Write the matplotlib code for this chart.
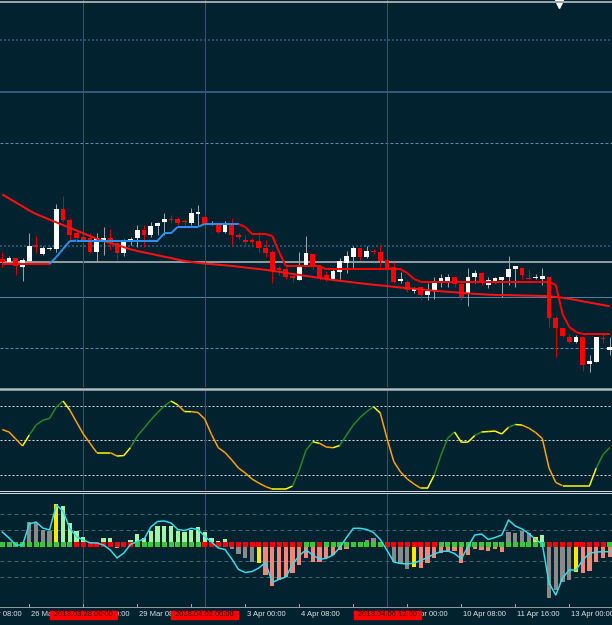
import numpy as np
import matplotlib
matplotlib.use("Agg")
import matplotlib.pyplot as plt
from matplotlib.collections import LineCollection
from matplotlib.patches import Rectangle
from matplotlib.lines import Line2D

# H4 candles, bar 0 = 2018.03.28 00:00 (price in chart points)
bars = np.arange(-12, 79)

open_ = [131, 128.3, 132.3, 122.7, 129, 145, 136, 141.3, 140.7, 180.7, 170, 156.7,
         153.3, 151.7, 138.3, 148.3, 151.7, 147.3, 136.7, 149.7, 151.7, 160, 155, 164,
         167.7, 171.3, 170.7, 168.7, 166.7, 175.7,
         173.3, 166.4, 166.7, 158.3, 165, 154.7, 149.5, 149.3, 149, 142.3, 138.3, 121.5,
         120.7, 113.5, 110, 124, 136, 124, 115, 110.7, 118.3, 127.3, 132.7, 141.7,
         133.3, 138.8, 138.3,
         130, 122.7, 109.5, 108.3, 99.3, 102.7, 95, 99.3, 108.3, 108.3, 112.7, 106,
         96.7, 112.7, 117.3, 105, 109.3, 110, 112.7, 120.7, 122.3, 112.2, 111.7, 110.7,
         113.3, 71.7, 61.7, 53.3, 48.3, 53.3, 26, 28.3, 52.2, 40]
high = [138.3, 134, 132.3, 131.7, 156.7, 154, 144.3, 143.3, 186, 194, 171.7, 160,
        157, 156.7, 156.7, 163.3, 160.7, 148.3, 150.7, 152.7, 165, 165, 168.3, 168.3,
        176.7, 175, 173.3, 170.7, 181.7, 185,
        177, 169, 168.3, 169.3, 171.7, 157.3, 155, 151.7, 158.3, 150, 140, 124,
        122.7, 116.7, 138.3, 154, 136, 125, 119.3, 120.7, 131.7, 139.3, 144, 141.7,
        144, 140.7, 145,
        130, 128.3, 118.3, 110, 103.3, 103.3, 106.7, 113.3, 116, 116, 113.3, 107.3,
        121.7, 120, 118.3, 112.7, 112.7, 113.3, 134, 124, 123.3, 120.7, 116, 121.7,
        113.3, 74, 62.7, 56, 55, 54, 35, 52.7, 57.3, 53.3]
low = [122.7, 127, 115, 109.3, 128, 137.3, 135, 140, 138.3, 168.3, 150, 148.3,
       147, 136.7, 128.3, 135, 140, 130, 134, 145, 143.3, 143.3, 153.3, 155,
       155, 166.7, 165, 165, 165, 165,
       165, 165, 157.3, 157.3, 145, 150.7, 144, 146, 138.3, 132.7, 106.7, 115,
       110.7, 108.3, 110, 124, 120.7, 110, 109.3, 110, 110.7, 116.7, 120.7, 130,
       131.7, 136, 122.7,
       118.3, 106.7, 106.7, 98, 97.3, 90, 90, 90.7, 103.3, 103.3, 103.3, 90,
       84, 106.7, 105, 101.7, 106.7, 93.3, 105, 102.7, 110.7, 110.7, 110.7, 105,
       63.3, 33.3, 53.3, 47.3, 46.7, 19.3, 18.3, 28.3, 46.7, 35]
close = [127.7, 132.3, 124, 130, 144.3, 143.3, 142.3, 142, 180.7, 170, 155, 151.7,
         150, 138.3, 151.7, 151.7, 146.7, 137.3, 148.3, 150.3, 160, 155, 164, 167.3,
         171, 170, 166.7, 168, 176.7, 178.3,
         166, 167, 158.3, 167.3, 155, 153.5, 148.5, 148.5, 141.7, 137.3, 120, 120.5,
         113.3, 112.5, 125, 136.7, 122.7, 112.7, 110.7, 119.3, 129.3, 134, 141.7, 132.7,
         139, 137.8, 129.3,
         120, 108.3, 110.5, 100, 101.7, 95, 99.3, 107.3, 111.7, 112.7, 106, 92.7,
         112.7, 117.3, 108.3, 110, 111.7, 113.3, 120.7, 124, 115, 111.2, 112.7, 114,
         71.7, 61.7, 54, 48.3, 53.3, 25, 29.3, 52.7, 51.2, 43.3]

# moving average and trailing stop (side +1 = support / blue, -1 = resistance / red)
ma = [195.6, 191.6, 187.6, 183.6, 179.5, 176, 173.2, 170.4, 167.6, 165, 162.2, 159.5,
      156.7, 154, 151.3, 149, 147, 145, 142.8, 140.7, 139, 137.6, 136.2, 134.7, 133.3,
      132, 130.4, 129, 128.1, 127.2,
      126.4, 125.9, 125.3, 124.7, 124.1, 123.3, 122.5, 121.7, 121, 120.2, 119.2, 118.2,
      117.1, 116.1, 115.1, 114.1, 113.1, 112, 111, 110, 109.2, 108.4, 107.6, 106.8,
      106, 105.3, 104.6,
      104, 103.2, 102.5, 101.9, 101.3, 100.6, 99.9, 99.2, 98.7, 98.2, 97.7, 97.1,
      96.6, 96.2, 95.8, 95.4, 95.1, 95, 94.8, 94.7, 94.5, 94.4, 94.2, 94.1,
      93.8, 93, 92.2, 91.2, 90, 88.7, 87.4, 86.2, 85, 83.7]
stop = [126, 126, 126, 126, 126, 126, 126, 126, 133, 141, 149, 149.3,
        149.3, 149.3, 149.3, 149.3, 149.3, 149.3, 149.3, 149.3, 149.3, 149.3, 149.3, 149.3,
        156.7, 156.7, 163.3, 163.3, 163.3, 163.3,
        166, 166, 166, 166, 166, 166, 163, 156, 156, 156, 154, 138,
        124, 124, 124, 124, 124, 124, 120.7, 120.7, 120.7, 120.7, 120.7, 120.7,
        120.7, 120.7, 120.7,
        120.7, 120.7, 120.7, 117, 111, 108.3, 108.3, 108.3, 108.3, 108.3, 108.3, 108.3,
        108.3, 108.3, 108.3, 108.3, 108.3, 108.3, 108.3, 108.3, 108.3, 108.3, 108.3, 108.3,
        108.3, 105, 76, 63, 58, 56, 56, 56, 56, 56]
stop_side = [-1] * 8 + [1] * 28 + [-1] * 55
hlevels = [350.3, 298.3, 246.7, 144, 128, 93, 42]

# stochastic
stoch = [59.3, 57.2, 51.1, 45.1, 54.6, 63.2, 67.4, 68.9, 78.8, 84.0, 76.2, 65.8,
         55.5, 47.4, 39.3, 39.3, 39.3, 36.4, 36.8, 43.8, 53.7, 60.6, 67.6, 74.1, 79.7,
         84.0, 80.6, 74.9, 74.8, 74.1,
         68.4, 55.0, 43.6, 39.4, 33.0, 26.0, 21.7, 16.5, 13.0, 10.0, 7.8, 7.8, 7.8,
         10.4, 24.3, 41.6, 48.8, 47.4, 44.2, 43.6, 45.5, 54.6, 63.2, 69.7, 74.9, 79.1, 73.6,
         51.6, 31.6, 22.6, 16.5, 12.2, 8.5, 8.5, 20.0, 37.3, 52.0, 57.2, 48.3, 48.5,
         54.2, 57.2, 57.6, 58.0, 55.5, 61.3, 63.7, 63.2, 60.6, 56.8, 51.6,
         26.0, 13.5, 10.7, 10.7, 10.7, 10.7, 10.7, 26.0, 37.7, 43.8]
stoch_levels = [80, 50, 20]

# histogram oscillator with signal line
hist = [0, 0, -2, 0, 23.3, 22.3, 15, 14.3, 41, 39, 21.7, 14.3,
        8.3, 3.3, 3.3, 7.3, 7.3, -3, 0, 5, 11, 6.7, 14.3, 19, 19, 19, 14.3, 13.3, 15, 18.3,
        13.3, 6.7, 4.3, 5.7, -4.3, -9, -13.3, -16.7, -18.3, -30, -41, -35, -32.3, -27.7,
        -20, -13.3, -16.7, -16.7, -13.3, -10, -5, -4.3, 0, 0, 5, 6.7, 3.3,
        0, -16.7, -19, -24.3, -22.3, -23.3, -18.3, -13.3, -8.3, -6.7, -5.7, -17.7, -10,
        -4.3, -5, -5.7, -4.3, -6.7, 13.3, 12.3, 14.3, 12.3, 8.3, 10,
        -53, -45, -36.7, -35, -26.7, -28.3, -25.7, -16.7, -13.3, -11.7]
hist_runs = [('g', 2), ('r', 1), ('g', 1), ('k', 4), ('y', 1), ('g', 8), ('r', 1),
             ('g', 16), ('k', 4), ('y', 1), ('r', 13), ('k', 4), ('y', 1), ('k', 4),
             ('y', 1), ('r', 13), ('k', 4), ('y', 1), ('g', 1), ('k', 4), ('y', 1), ('r', 5)]
dot_runs = [('g', 11), ('r', 9), ('g', 10), ('r', 15), ('g', 2), ('r', 1), ('g', 9),
            ('r', 8), ('g', 16), ('r', 9), ('g', 1)]
signal = [13, 7, 0, 0, 21, 23, 17, 15, 40, 34, 16.5, 8.3,
          5, 2.2, 2, 0, -5, -13, -8, 0.5, 3.5, 6, 18, 23.5, 24, 22, 15.5, 14.5, 16.7, 15.5,
          8.5, 3, -3, -4.5, -14, -24.5, -27.5, -26.5, -23, -17.5, -37.5, -34.3, -32, -19.5,
          -10.5, -5, -10, -14.3, -13.3, -10, -2.5, 7.5, 16.7, 16.7, 15.5, 12.5, 5.5,
          -5.3, -17, -18.5, -19, -18, -15.5, -12.5, -9, -6.5, -6, -8.5, -14, -1.5,
          10, 11, 5.5, 7.5, 10, 25, 19, 16, 11.5, 5.5, 1,
          -38, -50, -33, -25, -25, -15, -8.3, -7, -6.7, -6.7]
hist_levels = [30.7, 15, -16, -31.7]

# time axis
tick_bars = [-16, -8, 0, 8, 16, 24, 32, 40, 48, 56, 64, 72]
tick_labels = ["23 Mar 08:00", "26 Mar 16:00", "28 Mar 00:00", "29 Mar 08:00",
               "30 Mar 16:00", "3 Apr 00:00", "4 Apr 08:00", "5 Apr 16:00",
               "9 Apr 00:00", "10 Apr 08:00", "11 Apr 16:00", "13 Apr 00:00"]
vline_bars = [0, 18, 45]
vline_labels = ["2018.03.28 00:00", "2018.04.02 00:00", "2018.04.06 12:00"]

for arr in (open_, high, low, close, ma, stop, stop_side, stoch, hist, signal):
    assert len(arr) == len(bars), len(arr)

W, H = 612, 625
BG = '#03222f'
PX = 0.72  # points per pixel at 100 dpi
XMIN, XMAX = -12.34, 78.33
BOX_HALF = 4.96
plt.rcParams['lines.scale_dashes'] = False
plt.rcParams['font.family'] = ['Liberation Sans', 'DejaVu Sans']

fig = plt.figure(figsize=(W / 100, H / 100), dpi=100, facecolor=BG)


def panel(top, bottom):
    ax = fig.add_axes([0, 1 - bottom / H, 1, (bottom - top) / H])
    ax.set_xlim(XMIN, XMAX)
    ax.set_axis_off()
    return ax


def runs(spec):
    out = []
    for code, n in spec:
        out += [code] * n
    return out


def fig_hline(y, color, px):
    fig.add_artist(Line2D([0, 1], [1 - y / H, 1 - y / H], color=color, lw=px * PX,
                          antialiased=False))


def red_vlines(a):
    for b in vline_bars:
        a.axvline(b, color='#ff0000', lw=PX, antialiased=False, zorder=2)


# ---- main price panel
ax = panel(0, 387)
ax.set_ylim(3, 390)
styles = [('#2c6184', 1.5, (2 * PX, 2 * PX)), ('#3a6f96', 1.5, None),
          ('#5a8cb3', 1, (3 * PX, 2 * PX)), ('#2c6184', 1.5, (2 * PX, 2 * PX)),
          ('#8c999f', 2, None), ('#4e7fa5', 1, None), ('#5a8cb3', 1, (3 * PX, 2 * PX))]
for lvl, (col, w, dash) in zip(hlevels, styles):
    ln = ax.axhline(lvl, color=col, lw=w * PX, zorder=1)
    if dash:
        ln.set_dashes(dash)
red_vlines(ax)

o = np.array(open_)
c = np.array(close)
bull = c >= o
body_h = np.maximum(np.abs(c - o), 1.3)
body_lo = np.minimum(o, c) - (body_h - np.abs(c - o)) / 2
ax.vlines(bars, low, high, colors=np.where(bull, '#9aa3a8', '#d00000'), lw=PX, zorder=4)
ax.bar(bars, body_h, bottom=body_lo, width=0.7, color=np.where(bull, '#ffffff', '#ff0000'),
       linewidth=0, zorder=5)

ax.plot(bars, ma, color='#ff1010', lw=2 * PX, zorder=6, solid_capstyle='butt')
pts = np.column_stack([bars, stop])
segs = np.stack([pts[:-1], pts[1:]], axis=1)
seg_cols = ['#2a8ff0' if s > 0 else '#ff0000' for s in stop_side[1:]]
ax.add_collection(LineCollection(segs, colors=seg_cols, linewidths=2 * PX, zorder=7))
ax.plot([558.6 / W], [1 - 4 / 387], marker='v', color='white', ms=6,
        transform=ax.transAxes, clip_on=False)
fig_hline(1.7, '#9aa5ab', 1.5)

# ---- stochastic panel
ax2 = panel(391, 490)
ax2.set_ylim(7.0, 92.7)
for lvl in stoch_levels:
    ln = ax2.axhline(lvl, color='#d5d9db', lw=PX)
    ln.set_dashes((2 * PX, 2 * PX))
red_vlines(ax2)
st = np.array(stoch)
pts = np.column_stack([bars, st])
segs = np.stack([pts[:-1], pts[1:]], axis=1)
d = np.diff(st)
cols, prev = [], -1
for dk in d:
    step = 0 if abs(dk) < 0.5 else np.sign(dk)
    if step > 0 and prev > 0:
        cols.append('#1e8c1e')
    elif step < 0 and prev < 0:
        cols.append('#ffa500')
    else:
        cols.append('#ffff00')
    if step != 0:
        prev = step
ax2.add_collection(LineCollection(segs, colors=cols, linewidths=1.5 * PX, zorder=5))

# ---- histogram panel
ax3 = panel(494, 607)
ax3.set_ylim(-62, 51)
for lvl in hist_levels:
    ln = ax3.axhline(lvl, color='#4a606b', lw=PX)
    ln.set_dashes((4 * PX, 3 * PX))
red_vlines(ax3)
hcol = {'g': '#a2f5a2', 'r': '#f5867a', 'k': '#8a8a8a', 'y': '#ffe800'}
ax3.bar(bars, hist, width=0.62, color=[hcol[k] for k in runs(hist_runs)], linewidth=0, zorder=3)
dcol = {'g': '#35c935', 'r': '#ff0000'}
ax3.bar(bars, 4.4, bottom=-1.5, width=0.74, color=[dcol[k] for k in runs(dot_runs)],
        linewidth=0, zorder=4)
ax3.plot(bars, signal, color='#2fe0ef', lw=1.5 * PX, zorder=5)
ax3.vlines(tick_bars, -59, -62, color='#9aa4a9', lw=PX, antialiased=False)

fig_hline(388.8, '#7f8f97', 3)
fig_hline(388.8, '#b5c1c7', 1)
fig_hline(490.8, '#d0d6d9', 1)
fig_hline(492.8, '#d0d6d9', 1)
fig_hline(607, '#8e979c', 1)

# ---- time axis
ax4 = panel(607, 625)
ax4.set_ylim(0, 18)
for b, lab in zip(tick_bars, tick_labels):
    t = ax4.text(b + 0.2, 10, lab, color='#dfe3e5', fontsize=5.5, ha='left', va='center')
    clip = None
    for vb in vline_bars:
        if vb - BOX_HALF <= b <= vb + BOX_HALF:
            clip = Rectangle((vb + BOX_HALF, 0), 100, 18, transform=ax4.transData)
        elif b < vb - BOX_HALF < b + 7.5:
            clip = Rectangle((XMIN - 10, 0), vb - BOX_HALF - XMIN + 10, 18,
                             transform=ax4.transData)
    if clip is not None:
        t.set_clip_path(clip)
for b, lab in zip(vline_bars, vline_labels):
    ax4.add_patch(Rectangle((b - BOX_HALF, 6.3), 2 * BOX_HALF, 8, color='#ff0000', zorder=5))
    ax4.text(b, 10.2, lab, color='#300000', fontsize=5.5, ha='center', va='center', zorder=6)

fig.savefig('out.png', dpi=100, facecolor=BG)
